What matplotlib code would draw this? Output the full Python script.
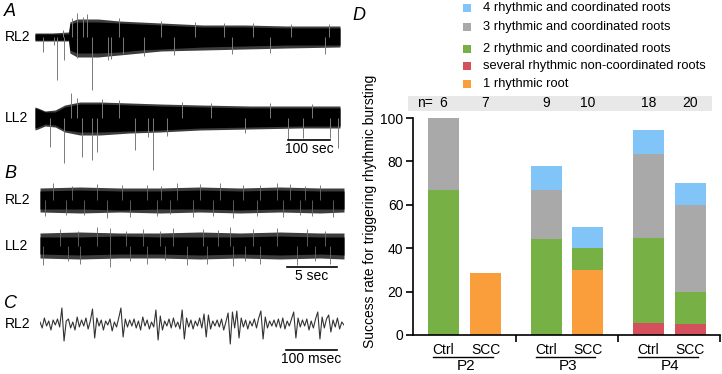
import matplotlib.pyplot as plt
from matplotlib.patches import Rectangle
import numpy as np

plt.rcParams['font.family'] = ['Liberation Sans', 'DejaVu Sans']
plt.rcParams['font.size'] = 10

W, H = 722, 374

# ---------------- traces ----------------
# panel A: envelopes, time in sec, amplitude in arbitrary units
a_rl2_t = [0, 40, 80, 83, 100, 150, 200, 250, 300, 400, 500, 600, 726]
a_rl2_core_hi = [3, 3, 3, 13, 15, 15, 14, 13, 12, 10, 10, 9, 9]
a_rl2_core_lo = [-3, -3, -3, -13, -16, -16, -15, -13, -12, -10, -9, -8, -8]
a_rl2_fr_hi = [4, 4, 5, 15, 18, 18, 16, 15, 14, 12, 12, 11, 11]
a_rl2_fr_lo = [-4, -4, -4, -16, -20, -20, -18, -16, -14, -13, -12, -11, -10]
a_rl2_spk_t = [19, 52, 69, 100, 136, 180, 260, 330, 470, 560, 690,
               88, 100, 124, 174, 209, 45, 67, 114, 200, 300, 380, 450, 520, 610, 700]
a_rl2_spk_v = [-15, -43, -23, -21, -53, -22, -19, -18, -17, -16, -17,
               19, 24, 23, -23, -17, -8, 7, 20, 19, 16, 15, 14, 14, 13, 13]

a_ll2_t = [0, 7, 24, 48, 71, 107, 155, 226, 298, 393, 512, 631, 726]
a_ll2_core_hi = [10, 9, 6, 6, 11, 14, 14, 13, 12, 11, 10, 10, 10]
a_ll2_core_lo = [-10, -9, -6, -7, -12, -14, -14, -13, -12, -10, -9, -8, -8]
a_ll2_fr_hi = [11, 10, 7, 8, 13, 16, 16, 15, 14, 13, 12, 12, 12]
a_ll2_fr_lo = [-12, -11, -8, -9, -14, -17, -17, -15, -14, -12, -11, -10, -10]
a_ll2_spk_t = [36, 69, 86, 112, 136, 148, 238, 281, 314, 602, 638, 702, 721,
               100, 160, 200, 270, 350, 420, 500, 560, 660]
a_ll2_spk_v = [-29, -45, 25, -39, -42, -34, -32, -52, -18, -22, -20, -20, -30,
               20, 19, 18, -19, 16, 15, -15, 15, 14]

# panel B: envelopes and spikes, time in sec
b_t = [0, 4, 8, 12, 16, 20, 24, 28, 30.4]
b_rl2_core_hi = [9, 10, 9, 9, 10, 9, 10, 9, 9]
b_rl2_core_lo = [-9, -9, -10, -9, -9, -10, -9, -9, -9]
b_rl2_fr_hi = [12, 13, 12, 12, 13, 12, 13, 12, 12]
b_rl2_fr_lo = [-12, -13, -12, -13, -12, -13, -12, -13, -12]
b_rl2_up_t = [1.3, 5.7, 10.7, 13.7, 16, 18, 20.3, 23.7, 25, 28, 3.2, 8.2, 12.1, 22, 26.5]
b_rl2_up_v = [17, 16, 15, 17, 16, 17, 15, 17, 16, 15, 14, 15, 14, 15, 14]
b_rl2_dn_t = [0.5, 6.7, 9, 11.7, 15.3, 17.3, 19.3, 21.7, 24.3, 27.2, 29.3, 2.6, 4.4, 13, 26]
b_rl2_dn_v = [-16, -18, -17, -16, -17, -16, -18, -16, -17, -16, -17, -15, -15, -14, -15]
b_ll2_core_hi = [9, 9, 10, 9, 9, 9, 10, 9, 9]
b_ll2_core_lo = [-8, -9, -8, -8, -9, -8, -9, -8, -9]
b_ll2_fr_hi = [13, 14, 13, 13, 14, 13, 14, 13, 13]
b_ll2_fr_lo = [-12, -13, -12, -12, -13, -12, -13, -12, -13]
b_ll2_up_t = [2, 5.7, 7, 10.3, 13.3, 16.3, 19, 21.3, 23.7, 26.7, 3.8, 8.6, 12, 17.8, 28.5]
b_ll2_up_v = [17, 19, 18, 17, 18, 17, 19, 17, 18, 17, 15, 15, 15, 16, 15]
b_ll2_dn_t = [0.3, 4, 7, 10.7, 14.7, 16.7, 19.3, 22, 25.7, 29, 2.8, 9, 12.5, 20.5, 27.5]
b_ll2_dn_v = [-19, -18, -21, -18, -19, -18, -20, -18, -19, -18, -15, -15, -14, -15, -15]

# panel C: sampled trace over 596 msec
c_vals = [2, -4, 6, -2, 3, -6, 4, -1, 5, -3, 16, -17, 3,
          5, -4, 2, -6, 7, -3, 4, -2, 6, -5, 3, 15, -14, 6, -2,
          4, -6, 3, -1, 5, -7, 2, -3, 6, 16, -13, 5,
          -3, 4, -2, 5, -4, 3, -6, 7, -2, 4, -5, 2, -3, 14, -16, 8,
          -6, 3, -2, 5, -4, 6, -3, 2, -5, 14, -15, 6,
          -3, 4, -5, 3, -2, 6, -4, 10, -13, 9, -5,
          3, -2, 4, -3, 5, -6, 2, 11, -20, 12, -4, 13, -14, 6,
          -3, 4, -5, 3, -2, 5, -4, 6, 13, -15, 7,
          -4, 3, -2, 4, -3, 5, -4, 6, -5, 3, -2, 5, 12, -14, 6,
          -3, 4, -2, 5, -6, 3, -4, 5, 12, -15, 7,
          -4, 5, 9, -8, 4, -3, 6, -5, 2, -1]

# ---------------- bar chart D ----------------
groups = ['P2', 'P3', 'P4']
conds = ['Ctrl', 'SCC', 'Ctrl', 'SCC', 'Ctrl', 'SCC']
n_vals = [6, 7, 9, 10, 18, 20]
one_root = [0, 28.6, 0, 30, 0, 0]
non_coord = [0, 0, 0, 0, 5.6, 5]
two_roots = [66.7, 0, 44.4, 10, 38.9, 15]
three_roots = [33.3, 0, 22.2, 0, 38.9, 40]
four_roots = [0, 0, 11.1, 10, 11.1, 10]

series = [
    (one_root, '#fa9e3b', '1 rhythmic root'),
    (non_coord, '#d3505c', 'several rhythmic non-coordinated roots'),
    (two_roots, '#77b044', '2 rhythmic and coordinated roots'),
    (three_roots, '#a9a9a9', '3 rhythmic and coordinated roots'),
    (four_roots, '#80c4f8', '4 rhythmic and coordinated roots'),
]

fig = plt.figure(figsize=(W / 100, H / 100), dpi=100)


def trace_ax(x0, x1, yc, half=50):
    ax = fig.add_axes([x0 / W, 1 - (yc + half) / H, (x1 - x0) / W, 2 * half / H])
    ax.set_ylim(-half, half)
    ax.axis('off')
    return ax


def envelope(ax, t, fr_lo, fr_hi, co_lo, co_hi):
    ax.fill_between(t, fr_lo, fr_hi, color='#3c3c3c', lw=0)
    ax.fill_between(t, co_lo, co_hi, color='black', lw=0)
    ax.set_xlim(t[0], t[-1])


# A
ax = trace_ax(35, 340, 37)
ax.vlines(a_rl2_spk_t, 0, a_rl2_spk_v, color='#7a7a7a', lw=0.7, clip_on=False)
envelope(ax, a_rl2_t, a_rl2_fr_lo, a_rl2_fr_hi, a_rl2_core_lo, a_rl2_core_hi)

ax = trace_ax(35, 340, 118)
ax.vlines(a_ll2_spk_t, 0, a_ll2_spk_v, color='#7a7a7a', lw=0.7, clip_on=False)
envelope(ax, a_ll2_t, a_ll2_fr_lo, a_ll2_fr_hi, a_ll2_core_lo, a_ll2_core_hi)
ax.plot([602, 702], [-22, -22], color='black', lw=1.2, clip_on=False)
ax.text(652, -31, '100 sec', ha='center', va='center', fontsize=10)

# B
ax = trace_ax(40, 344, 200)
ax.vlines(b_rl2_up_t, 0, b_rl2_up_v, color='#6a6a6a', lw=0.6)
ax.vlines(b_rl2_dn_t, 0, b_rl2_dn_v, color='#6a6a6a', lw=0.6)
envelope(ax, b_t, b_rl2_fr_lo, b_rl2_fr_hi, b_rl2_core_lo, b_rl2_core_hi)
ax = trace_ax(40, 344, 246)
ax.vlines(b_ll2_up_t, 0, b_ll2_up_v, color='#6a6a6a', lw=0.6)
ax.vlines(b_ll2_dn_t, 0, b_ll2_dn_v, color='#6a6a6a', lw=0.6)
envelope(ax, b_t, b_ll2_fr_lo, b_ll2_fr_hi, b_ll2_core_lo, b_ll2_core_hi)
ax.plot([24.7, 29.7], [-21, -21], color='black', lw=1.2, clip_on=False)
ax.text(27.2, -30, '5 sec', ha='center', va='center', fontsize=10)

# C
ax = trace_ax(40, 344, 324)
c_t = np.linspace(0, 596, len(c_vals))
ax.plot(c_t, c_vals, color='#333333', lw=0.8)
ax.set_xlim(0, 596)
ax.plot([482, 582], [-26, -26], color='black', lw=1.2, clip_on=False)
ax.text(532, -35, '100 msec', ha='center', va='center', fontsize=10)

for lab, y in [('A', 12), ('B', 173), ('C', 303)]:
    fig.text(4 / W, 1 - y / H, lab, fontsize=13, style='italic', va='center')
for lab, y in [('RL2', 37), ('LL2', 118), ('RL2', 200), ('LL2', 246), ('RL2', 324)]:
    fig.text(5 / W, 1 - y / H, lab, fontsize=10, va='center')

# D
axd = fig.add_axes([413 / W, 1 - 335 / H, (720 - 413) / W, (335 - 118) / H])
pos = [0, 1, 2.45, 3.43, 4.88, 5.87]
bottom = np.zeros(len(pos))
for vals, col, lab in series:
    axd.bar(pos, vals, width=0.74, bottom=bottom, color=col, lw=0)
    bottom += np.array(vals)

axd.set_ylim(0, 100)
axd.set_xlim(-0.726, 6.583)
axd.set_yticks([0, 20, 40, 60, 80, 100])
axd.set_xticks([(pos[1] + pos[2]) / 2, (pos[3] + pos[4]) / 2, 6.583])
axd.set_xticklabels([])
axd.tick_params(length=5, width=1.2)
axd.tick_params(axis='y', labelsize=10, pad=2)
for s in ['top', 'right']:
    axd.spines[s].set_visible(False)
for s in ['left', 'bottom']:
    axd.spines[s].set_linewidth(1.2)

tr = axd.get_xaxis_transform()
for p, c in zip(pos, conds):
    axd.text(p, -0.069, c, transform=tr, ha='center', va='center', fontsize=10)
for i, g in enumerate(groups):
    p0, p1 = pos[2 * i], pos[2 * i + 1]
    axd.plot([p0 - 0.25, p1 + 0.18], [-0.101, -0.101], transform=tr,
             color='black', lw=1, clip_on=False)
    axd.text((p0 + p1) / 2 + 0.03, -0.143, g, transform=tr, ha='center',
             va='center', fontsize=11)

# n= band
axd.add_patch(Rectangle((-0.845, 1.032), 7.235, 0.069, transform=tr,
                        color='#e8e8e8', lw=0, clip_on=False))
axd.text(-0.63, 1.067, 'n=', transform=tr, va='center', fontsize=10)
for p, n in zip(pos, n_vals):
    axd.text(p, 1.067, str(n), transform=tr, ha='center', va='center', fontsize=10)

fig.text(370 / W, 1 - 211 / H, 'Success rate for triggering rhythmic bursting',
         rotation=90, ha='center', va='center', fontsize=10)
fig.text(352 / W, 1 - 15 / H, 'D', fontsize=13, style='italic', va='center')

# legend
leg_y = [8, 27, 49, 66, 84]
for (vals, col, lab), y in zip(series[::-1], leg_y):
    fig.patches.append(Rectangle((463 / W, 1 - (y + 4) / H), 8 / W, 8 / H,
                                 color=col, lw=0, transform=fig.transFigure))
    fig.text(483 / W, 1 - y / H, lab, fontsize=9.3, va='center')

fig.savefig('out.png', dpi=100)
